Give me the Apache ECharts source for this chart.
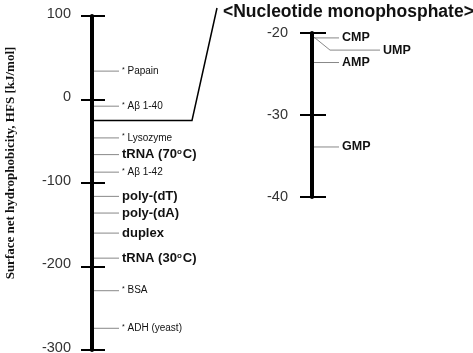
<!DOCTYPE html>
<html>
<head>
<meta charset="utf-8">
<script src="https://cdn.jsdelivr.net/npm/echarts@6/dist/echarts.min.js"></script>
<style>
  html, body { margin: 0; padding: 0; background: #fff; }
  #chart { width: 473px; height: 353px; }
</style>
</head>
<body>
<div id="chart"></div>
<script>
// main scale: items and their HFS values
const mainNames = ['Papain', 'Aβ 1-40', 'Lysozyme', 'tRNA (70{o|o}C)', 'Aβ 1-42', 'poly-(dT)', 'poly-(dA)', 'duplex', 'tRNA (30{o|o}C)', 'BSA', 'ADH (yeast)']
const mainValues = [34, -8, -46, -66, -87, -116, -136, -160, -190, -229, -274]
const mainBold = [false, false, false, true, false, true, true, true, true, false, false]
const mainTicks = { min: -300, max: 100, interval: 100 }

// nucleotide monophosphate inset
const nucNames = ['CMP', 'UMP', 'AMP', 'GMP']
const nucValues = [-20.6, -20.5, -23.6, -33.9]
const nucTicks = { min: -40, max: -20, interval: 10 }
const nucMean = [-25]

const fontSans = 'Arial, "Liberation Sans", sans-serif'
const chart = echarts.init(document.getElementById('chart'))

function axisPair(grid, ticks, tickLen, margin, labelPad) {
  return [
    {
      gridIndex: grid, type: 'value', position: 'left', min: ticks.min, max: ticks.max, interval: ticks.interval,
      axisLine: { show: true, lineStyle: { color: '#000', width: 4 } },
      axisTick: { show: true, length: tickLen, lineStyle: { color: '#000', width: 2 } },
      axisLabel: {
        margin: margin, color: '#333',
        formatter: '{v|{value}}',
        rich: { v: { fontSize: 14.5, color: '#333', fontFamily: fontSans, padding: labelPad } }
      },
      splitLine: { show: false }
    },
    {
      // same scale again, ticks pointing inward so they cross the axis
      gridIndex: grid, type: 'value', position: 'left', offset: 0, min: ticks.min, max: ticks.max, interval: ticks.interval,
      axisLine: { show: false },
      axisTick: { show: true, inside: true, length: tickLen + 2, lineStyle: { color: '#000', width: 2 } },
      axisLabel: { show: false },
      splitLine: { show: false }
    }
  ]
}

function itemRender(names, bold, bigSize) {
  return function(params, api) {
    const i = params.dataIndex
    const p = api.coord([0, api.value(1)])
    const name = names[i]
    let lineEnd = p[0] + 27
    let pts = [[p[0] + 2, p[1]], [lineEnd, p[1]]]
    if (name === 'UMP') {
      lineEnd = p[0] + 68
      pts = [[p[0] + 2, p[1]], [p[0] + 18, p[1] + 13], [lineEnd, p[1] + 13]]
    }
    const ty = pts[pts.length - 1][1]
    const isBold = bold ? bold[i] : true
    return {
      type: 'group',
      children: [
        {
          type: 'polyline',
          shape: { points: pts },
          style: { stroke: '#888', lineWidth: 1, fill: null }
        },
        {
          type: 'text',
          x: lineEnd + 3,
          y: ty,
          style: {
            text: isBold ? name : '{s|*} ' + name,
            fontFamily: fontSans,
            fontSize: isBold ? bigSize : 10,
            fontWeight: isBold ? 'bold' : 'normal',
            fill: '#111',
            verticalAlign: 'middle',
            rich: {
              s: { fontSize: 7, verticalAlign: 'top', fill: '#111', fontFamily: fontSans },
              o: { fontSize: 8, verticalAlign: 'top', fontWeight: 'bold', fill: '#111', fontFamily: fontSans, padding: [0, 1, 4, 0] }
            }
          }
        }
      ]
    }
  }
}

const yAxes = [].concat(
  axisPair(0, mainTicks, 11, 21, [0, 0, 5, 0]),
  axisPair(1, nucTicks, 12, 24, [0, 0, 0, 0])
)
// axis title on the main scale, shifted a bit upward like the original
Object.assign(yAxes[0], {
  name: 'Surface net hydrophobicity, HFS [kJ/mol]',
  nameLocation: 'middle',
  nameRotate: 90,
  nameGap: 75,
  nameTextStyle: {
    fontFamily: '"Liberation Serif", "Times New Roman", serif',
    fontWeight: 'bold', fontSize: 13, color: '#111',
    padding: [0, 0, 0, 40]
  }
})

const option = {
  animation: false,
  title: {
    text: '<Nucleotide monophosphate>',
    left: 218, top: -2,
    textStyle: { fontSize: 17.5, fontWeight: 'bold', color: '#111', fontFamily: fontSans }
  },
  grid: [
    { left: 92, top: 16, width: 120, height: 334, outerBoundsMode: 'none', containLabel: false },
    { left: 312, top: 33, width: 120, height: 164, outerBoundsMode: 'none', containLabel: false }
  ],
  xAxis: [
    { gridIndex: 0, type: 'value', min: 0, max: 1, show: false },
    { gridIndex: 1, type: 'value', min: 0, max: 1, show: false }
  ],
  yAxis: yAxes,
  series: [
    {
      type: 'custom', xAxisIndex: 0, yAxisIndex: 0,
      data: mainValues.map((v, i) => [0, v, i]),
      renderItem: itemRender(mainNames, mainBold, 13)
    },
    {
      // connector from main scale to the inset title
      type: 'custom', xAxisIndex: 0, yAxisIndex: 0,
      data: nucMean.map(v => [0, v]),
      renderItem: function(params, api) {
        const p = api.coord([0, api.value(1)])
        return {
          type: 'polyline',
          shape: { points: [[p[0], p[1]], [p[0] + 100, p[1]], [217, 8]] },
          style: { stroke: '#000', lineWidth: 1.5, fill: null }
        }
      }
    },
    {
      type: 'custom', xAxisIndex: 1, yAxisIndex: 2,
      data: nucValues.map((v, i) => [0, v, i]),
      renderItem: itemRender(nucNames, null, 12.5)
    }
  ]
}
chart.setOption(option)
window.onresize = function() {
  chart.resize()
}
</script>
</body>
</html>
